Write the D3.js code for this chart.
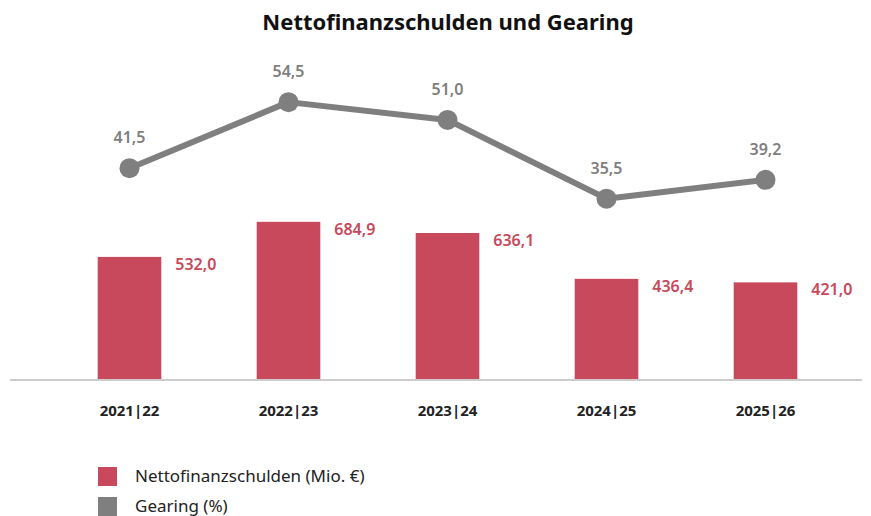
<!DOCTYPE html>
<html>
<head>
<meta charset="utf-8">
<script src="https://cdn.jsdelivr.net/npm/d3@7"></script>
<style>
  body { margin: 0; background: #fff; }
  svg { font-family: "Noto Sans", "Open Sans", sans-serif; }
</style>
</head>
<body>
<svg id="chart" width="871" height="516"></svg>
<script>
const years = ["2021|22", "2022|23", "2023|24", "2024|25", "2025|26"];
const debt = [532.0, 684.9, 636.1, 436.4, 421.0];
const gearing = [41.5, 54.5, 51.0, 35.5, 39.2];
const seriesNames = ["Nettofinanzschulden (Mio. €)", "Gearing (%)"];

const barColor = "#c8485c";
const lineColor = "#7f7f7f";
const fmt = (v) => v.toFixed(1).replace(".", ",");

const svg = d3.select("#chart");
const baseY = 379;

const x = d3.scaleBand().domain(years).range([50, 845]).paddingInner(0.6).paddingOuter(0.3);
const yBar = d3.scaleLinear().domain([0, 700]).range([baseY, baseY - 700 * 0.2295]);
const yLine = d3.scaleLinear().domain([0, 60]).range([baseY, baseY - 60 * 5.08]);

svg.append("text")
  .attr("x", 448).attr("y", 30)
  .attr("text-anchor", "middle")
  .attr("font-size", 22).attr("font-weight", "bold")
  .attr("fill", "#111")
  .text("Nettofinanzschulden und Gearing");

// bars
svg.append("g").selectAll("rect")
  .data(debt)
  .join("rect")
  .attr("x", (_, i) => x(years[i]))
  .attr("y", (d) => yBar(d))
  .attr("width", x.bandwidth())
  .attr("height", (d) => baseY - yBar(d))
  .attr("fill", barColor);

svg.append("g").selectAll("text")
  .data(debt)
  .join("text")
  .attr("x", (_, i) => x(years[i]) + x.bandwidth() + 14)
  .attr("y", (d) => yBar(d) + 13)
  .attr("font-size", 16).attr("font-weight", 600)
  .attr("fill", barColor)
  .text((d) => fmt(d));

// baseline
svg.append("line")
  .attr("x1", 10).attr("x2", 862)
  .attr("y1", baseY + 1).attr("y2", baseY + 1)
  .attr("stroke", "#cccccc").attr("stroke-width", 2);

// x axis labels
svg.append("g").selectAll("text")
  .data(years)
  .join("text")
  .attr("x", (d) => x(d) + x.bandwidth() / 2)
  .attr("y", 416)
  .attr("text-anchor", "middle")
  .attr("font-size", 15).attr("font-weight", "bold")
  .attr("fill", "#222")
  .text((d) => d);

// gearing line
const cx = (i) => x(years[i]) + x.bandwidth() / 2;
const line = d3.line().x((_, i) => cx(i)).y((d) => yLine(d));
svg.append("path")
  .datum(gearing)
  .attr("d", line)
  .attr("fill", "none")
  .attr("stroke", lineColor)
  .attr("stroke-width", 6)
  .attr("stroke-linejoin", "round");

svg.append("g").selectAll("circle")
  .data(gearing)
  .join("circle")
  .attr("cx", (_, i) => cx(i))
  .attr("cy", (d) => yLine(d))
  .attr("r", 10)
  .attr("fill", lineColor);

svg.append("g").selectAll("text")
  .data(gearing)
  .join("text")
  .attr("x", (_, i) => cx(i))
  .attr("y", (d) => yLine(d) - 25)
  .attr("text-anchor", "middle")
  .attr("font-size", 16).attr("font-weight", 600)
  .attr("fill", lineColor)
  .text((d) => fmt(d));

// legend
const legend = svg.append("g").selectAll("g")
  .data(seriesNames)
  .join("g")
  .attr("transform", (_, i) => `translate(98,${467 + i * 30})`);
legend.append("rect")
  .attr("width", 19).attr("height", 19)
  .attr("fill", (_, i) => (i === 0 ? barColor : lineColor));
legend.append("text")
  .attr("x", 37).attr("y", 15)
  .attr("font-size", 17)
  .attr("fill", "#222")
  .text((d) => d);
</script>
</body>
</html>
